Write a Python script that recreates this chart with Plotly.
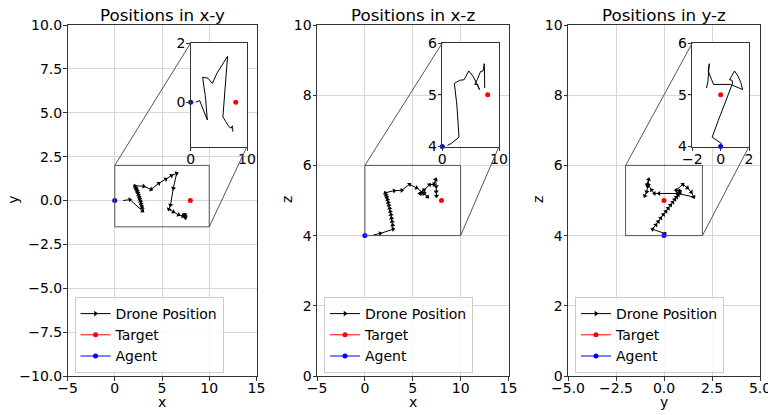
import plotly.graph_objects as go

# page is 776x415; the html body adds an 8px margin on the top/left
OFF = 8
W, H = 776 - OFF, 415 - OFF

# Drone trajectory
drone_x = [0.90, 1.60, 2.95, 2.90, 2.85, 2.78, 2.72, 2.65, 2.58, 2.50, 2.43, 2.36, 2.28, 2.20, 2.12,
           3.07, 3.85, 4.66, 5.40, 6.00, 6.55, 6.20, 5.90, 5.72, 6.20, 6.75, 7.20, 7.40, 7.45, 7.45, 7.48]
drone_y = [0.00, 0.05, -0.60, -0.42, -0.30, -0.17, -0.03, 0.10, 0.22, 0.34, 0.46, 0.56, 0.65, 0.74, 0.84,
           0.81, 0.63, 0.98, 1.22, 1.42, 1.55, 0.70, -0.26, -0.50, -0.65, -0.82, -0.88, -0.80, -0.85, -0.90, -1.00]
drone_z = [4.02, 4.06, 4.18, 4.30, 4.40, 4.50, 4.60, 4.69, 4.78, 4.87, 4.95, 5.03, 5.10, 5.16, 5.22,
           5.28, 5.29, 5.46, 5.36, 5.24, 5.10, 5.20, 5.20, 5.20, 5.30, 5.45, 5.46, 5.60, 5.40, 5.25, 5.13]

target_x, target_y, target_z = [8.0], [0.0], [5.0]
agent_x, agent_y, agent_z = [0.0], [0.0], [4.0]

pos = {"x": drone_x, "y": drone_y, "z": drone_z}
tgt = {"x": target_x, "y": target_y, "z": target_z}
agt = {"x": agent_x, "y": agent_y, "z": agent_z}

panels = [
    dict(title="Positions in x-y", h="x", v="y", xr=[-5, 15], yr=[-10, 10],
         xt=[-5, 0, 5, 10, 15], yt=[-10, -7.5, -5, -2.5, 0, 2.5, 5, 7.5, 10], xf="", yf=".1f",
         ixr=[0, 10], iyr=[-1.5, 2], ixt=[0, 10], iyt=[0, 2],
         dom=(67.5, 256.5), idom=(190.7, 247.0), vlab_x=12.7),
    dict(title="Positions in x-z", h="x", v="z", xr=[-5, 15], yr=[0, 10],
         xt=[-5, 0, 5, 10, 15], yt=[0, 2, 4, 6, 8, 10], xf="", yf="",
         ixr=[0, 10], iyr=[4, 6], ixt=[0, 10], iyt=[4, 5, 6],
         dom=(317.0, 508.5), idom=(442.3, 499.0), vlab_x=287),
    dict(title="Positions in y-z", h="y", v="z", xr=[-5, 5], yr=[0, 10],
         xt=[-5, -2.5, 0, 2.5, 5], yt=[0, 2, 4, 6, 8, 10], xf=".1f", yf="",
         ixr=[-2, 2], iyr=[4, 6], ixt=[-2, 0, 2], iyt=[4, 5, 6],
         dom=(568.0, 760.0), idom=(692.3, 749.0), vlab_x=538),
]

MAIN_Y = (25.0, 376.0)
INSET_Y = (43.0, 146.5)
FONT = "DejaVu Sans"
SPINE = "#333333"

fig = go.Figure()
layout = dict(width=W, height=H, margin=dict(l=0, r=0, t=0, b=0),
              plot_bgcolor="white", paper_bgcolor="white",
              font=dict(family=FONT, size=14, color="black"))
shapes, annotations = [], []


def paper_x(p):
    return (p - OFF) / W


def paper_y(p):
    return 1 - (p - OFF) / H


for i, p in enumerate(panels):
    m = 2 * i + 1          # main axes number
    n = 2 * i + 2          # inset axes number
    mx = "x" if m == 1 else f"x{m}"
    my = "y" if m == 1 else f"y{m}"
    nx, ny = f"x{n}", f"y{n}"
    leg = "legend" if i == 0 else f"legend{i + 1}"

    common = dict(showline=True, mirror=True, linecolor=SPINE, linewidth=1,
                  ticks="outside", ticklen=3.5, tickcolor=SPINE, zeroline=False,
                  automargin=False, tickfont=dict(size=14), ticklabeloverflow="allow")
    layout[f"xaxis{m}"] = dict(common, domain=[paper_x(p["dom"][0]), paper_x(p["dom"][1])],
                               range=p["xr"], tickvals=p["xt"], tickformat=p["xf"],
                               ticklabelstandoff=-4,
                               showgrid=True, gridcolor="#d6d6d6", anchor=my)
    layout[f"yaxis{m}"] = dict(common, domain=[paper_y(MAIN_Y[1]), paper_y(MAIN_Y[0])],
                               range=p["yr"], tickvals=p["yt"], tickformat=p["yf"],
                               ticklabelstandoff=-2,
                               showgrid=True, gridcolor="#d6d6d6", anchor=mx)
    layout[f"xaxis{n}"] = dict(common, domain=[paper_x(p["idom"][0]), paper_x(p["idom"][1])],
                               range=p["ixr"], tickvals=p["ixt"], ticklabelstandoff=-4,
                               showgrid=False, anchor=ny)
    layout[f"yaxis{n}"] = dict(common, domain=[paper_y(INSET_Y[1]), paper_y(INSET_Y[0])],
                               range=p["iyr"], tickvals=p["iyt"], ticklabelstandoff=-2,
                               showgrid=False, anchor=nx)

    hx, vy = pos[p["h"]], pos[p["v"]]

    # main panel
    fig.add_trace(go.Scatter(x=hx, y=vy, mode="lines+markers", xaxis=mx, yaxis=my,
                             line=dict(color="black", width=1),
                             marker=dict(symbol="triangle-up", size=4.5, color="black", angleref="previous"),
                             showlegend=False, hoverinfo="skip"))
    fig.add_trace(go.Scatter(x=tgt[p["h"]], y=tgt[p["v"]], mode="markers", xaxis=mx, yaxis=my,
                             marker=dict(color="red", size=5), showlegend=False))
    fig.add_trace(go.Scatter(x=agt[p["h"]], y=agt[p["v"]], mode="markers", xaxis=mx, yaxis=my,
                             marker=dict(color="blue", size=5), showlegend=False))

    # legend entries
    for name, col, sym in [("Drone Position", "black", "triangle-right"),
                           ("Target", "red", "circle"), ("Agent", "blue", "circle")]:
        fig.add_trace(go.Scatter(x=[None], y=[None], mode="lines+markers", name=name,
                                 xaxis=mx, yaxis=my, legend=leg,
                                 line=dict(color=col, width=1),
                                 marker=dict(symbol=sym, size=5, color=col)))

    # inset panel
    fig.add_trace(go.Scatter(x=hx, y=vy, mode="lines", xaxis=nx, yaxis=ny,
                             line=dict(color="black", width=1), showlegend=False))
    fig.add_trace(go.Scatter(x=tgt[p["h"]], y=tgt[p["v"]], mode="markers", xaxis=nx, yaxis=ny,
                             marker=dict(color="red", size=5), showlegend=False, cliponaxis=False))
    fig.add_trace(go.Scatter(x=agt[p["h"]], y=agt[p["v"]], mode="markers", xaxis=nx, yaxis=ny,
                             marker=dict(color="blue", size=5), showlegend=False, cliponaxis=False))

    layout[leg] = dict(x=paper_x(p["dom"][0] + 7), y=paper_y(297), xanchor="left", yanchor="top",
                       bgcolor="rgba(255,255,255,0.8)", bordercolor="#cccccc", borderwidth=1,
                       font=dict(size=14), tracegroupgap=0)

    # zoom rectangle on main panel and connectors to the inset
    x0, x1 = p["ixr"]
    y0, y1 = p["iyr"]
    shapes.append(dict(type="rect", xref=mx, yref=my, x0=x0, x1=x1, y0=y0, y1=y1,
                       line=dict(color="#555555", width=1), layer="above"))

    def to_px(xv, yv, p=p):
        fx = p["dom"][0] + (xv - p["xr"][0]) / (p["xr"][1] - p["xr"][0]) * (p["dom"][1] - p["dom"][0])
        fy = MAIN_Y[1] - (yv - p["yr"][0]) / (p["yr"][1] - p["yr"][0]) * (MAIN_Y[1] - MAIN_Y[0])
        return fx, fy

    tlx, tly = to_px(x0, y1)
    brx, bry = to_px(x1, y0)
    shapes.append(dict(type="line", xref="paper", yref="paper",
                       x0=paper_x(tlx), y0=paper_y(tly), x1=paper_x(p["idom"][0]), y1=paper_y(INSET_Y[0]),
                       line=dict(color="#555555", width=1)))
    shapes.append(dict(type="line", xref="paper", yref="paper",
                       x0=paper_x(brx), y0=paper_y(bry), x1=paper_x(p["idom"][1]), y1=paper_y(INSET_Y[1]),
                       line=dict(color="#555555", width=1)))

    cx = (p["dom"][0] + p["dom"][1]) / 2
    annotations.append(dict(text=p["title"], x=paper_x(cx), y=paper_y(15), xref="paper", yref="paper",
                            showarrow=False, font=dict(size=16.7), xanchor="center", yanchor="middle"))
    annotations.append(dict(text=p["h"], x=paper_x(cx), y=paper_y(402), xref="paper", yref="paper",
                            showarrow=False, font=dict(size=14), xanchor="center", yanchor="middle"))
    annotations.append(dict(text=p["v"], x=paper_x(p["vlab_x"]), y=paper_y(200), xref="paper", yref="paper",
                            showarrow=False, font=dict(size=14), textangle=-90,
                            xanchor="center", yanchor="middle"))

layout["shapes"] = shapes
layout["annotations"] = annotations
fig.update_layout(**layout)

fig.write_html("out.html")
